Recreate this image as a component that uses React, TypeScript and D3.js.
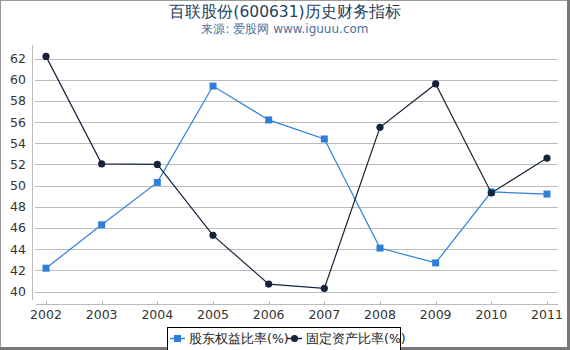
import React, { useEffect, useRef } from 'react';
import * as d3 from 'd3';

const years = ['2002', '2003', '2004', '2005', '2006', '2007', '2008', '2009', '2010', '2011'];
const equityRatio = [42.2, 46.3, 50.3, 59.4, 56.2, 54.4, 44.1, 42.7, 49.4, 49.2];
const fixedAssetRatio = [62.2, 52.05, 52.0, 45.3, 40.7, 40.3, 55.5, 59.6, 49.3, 52.6];
const yTicks = [40, 42, 44, 46, 48, 50, 52, 54, 56, 58, 60, 62];
const seriesNames = ['股东权益比率(%)', '固定资产比率(%)'];

const W = 570;
const H = 350;
const BLUE = '#2f7fd8';
const DARK = '#14233a';
const FONT = 'DejaVu Sans, sans-serif';

export default function App() {
  const ref = useRef<SVGSVGElement>(null);

  useEffect(() => {
    const svg = d3.select(ref.current);
    svg.selectAll('*').remove();

    const x = d3.scalePoint<string>().domain(years).range([46, 547]);
    const y = d3.scaleLinear().domain([40, 62]).range([291.5, 58.5]);

    // frame
    svg.append('rect').attr('width', W).attr('height', H).attr('fill', '#fff');
    svg.append('rect').attr('x', 0.5).attr('y', 0.5).attr('width', W - 3).attr('height', H - 3)
      .attr('fill', 'none').attr('stroke', '#999').attr('stroke-width', 1);
    svg.append('line').attr('x1', W - 1.5).attr('x2', W - 1.5).attr('y1', 0).attr('y2', H)
      .attr('stroke', '#777').attr('stroke-width', 3);
    svg.append('line').attr('x1', 0).attr('x2', W).attr('y1', H - 1.5).attr('y2', H - 1.5)
      .attr('stroke', '#777').attr('stroke-width', 3);

    // titles
    svg.append('text').attr('x', 285).attr('y', 17).attr('text-anchor', 'middle')
      .attr('font-family', FONT).attr('font-size', 15.5).attr('fill', '#263f5f')
      .text('百联股份(600631)历史财务指标');
    svg.append('text').attr('x', 285).attr('y', 33).attr('text-anchor', 'middle')
      .attr('font-family', FONT).attr('font-size', 12).attr('fill', '#4f6f9a')
      .text('来源: 爱股网 www.iguuu.com');

    // grid
    svg.append('g').selectAll('line').data(yTicks).join('line')
      .attr('x1', 35).attr('x2', 558)
      .attr('y1', d => Math.round(y(d)) + 0.5).attr('y2', d => Math.round(y(d)) + 0.5)
      .attr('stroke', '#bbb').attr('stroke-width', 1);

    // y axis
    const yAxis = svg.append('g');
    yAxis.append('line').attr('x1', 32.5).attr('x2', 32.5).attr('y1', 45).attr('y2', 300)
      .attr('stroke', '#bbb');
    yAxis.selectAll('text').data(yTicks).join('text')
      .attr('x', 26).attr('y', d => y(d) + 4.5).attr('text-anchor', 'end')
      .attr('font-family', FONT).attr('font-size', 12.5).attr('fill', '#333')
      .text(d => d);

    // x axis
    const xAxis = svg.append('g');
    xAxis.append('line').attr('x1', 36).attr('x2', 558).attr('y1', 304.5).attr('y2', 304.5)
      .attr('stroke', '#bbb');
    xAxis.selectAll('line.tick').data(years).join('line').attr('class', 'tick')
      .attr('x1', d => Math.round(x(d)!) + 0.5).attr('x2', d => Math.round(x(d)!) + 0.5)
      .attr('y1', 301).attr('y2', 305).attr('stroke', '#bbb');
    xAxis.selectAll('text').data(years).join('text')
      .attr('x', d => x(d)!).attr('y', 319).attr('text-anchor', 'middle')
      .attr('font-family', FONT).attr('font-size', 12.5).attr('fill', '#333')
      .text(d => d);

    const line = d3.line<number>().x((_, i) => x(years[i])!).y(d => y(d));

    // equity ratio
    svg.append('path').datum(equityRatio).attr('d', line)
      .attr('fill', 'none').attr('stroke', BLUE).attr('stroke-width', 1.2);
    svg.append('g').selectAll('rect').data(equityRatio).join('rect')
      .attr('x', (_, i) => x(years[i])! - 3.5).attr('y', d => y(d) - 3.5)
      .attr('width', 7).attr('height', 7).attr('fill', BLUE);

    // fixed asset ratio
    svg.append('path').datum(fixedAssetRatio).attr('d', line)
      .attr('fill', 'none').attr('stroke', DARK).attr('stroke-width', 1.2);
    svg.append('g').selectAll('circle').data(fixedAssetRatio).join('circle')
      .attr('cx', (_, i) => x(years[i])!).attr('cy', d => y(d))
      .attr('r', 3.6).attr('fill', DARK);

    // legend
    const lg = svg.append('g');
    lg.append('rect').attr('x', 167.5).attr('y', 327.5).attr('width', 233).attr('height', 24)
      .attr('fill', '#fff').attr('stroke', '#000').attr('stroke-width', 1);
    const items = [
      { name: seriesNames[0], color: BLUE, lx: 170, tx: 189, shape: 'rect' },
      { name: seriesNames[1], color: DARK, lx: 287, tx: 306, shape: 'circle' },
    ];
    items.forEach(it => {
      lg.append('line').attr('x1', it.lx).attr('x2', it.lx + 15).attr('y1', 338.5).attr('y2', 338.5)
        .attr('stroke', it.color).attr('stroke-width', 1.5);
      if (it.shape === 'rect') {
        lg.append('rect').attr('x', it.lx + 4).attr('y', 335).attr('width', 7).attr('height', 7)
          .attr('fill', it.color);
      } else {
        lg.append('circle').attr('cx', it.lx + 7.5).attr('cy', 338.5).attr('r', 3.5)
          .attr('fill', it.color);
      }
      lg.append('text').attr('x', it.tx).attr('y', 343)
        .attr('font-family', FONT).attr('font-size', 12.5).attr('fill', '#222')
        .text(it.name);
    });
  }, []);

  return <svg ref={ref} width={W} height={H} style={{ display: 'block', position: 'absolute', left: 0, top: 0 }} />;
}
